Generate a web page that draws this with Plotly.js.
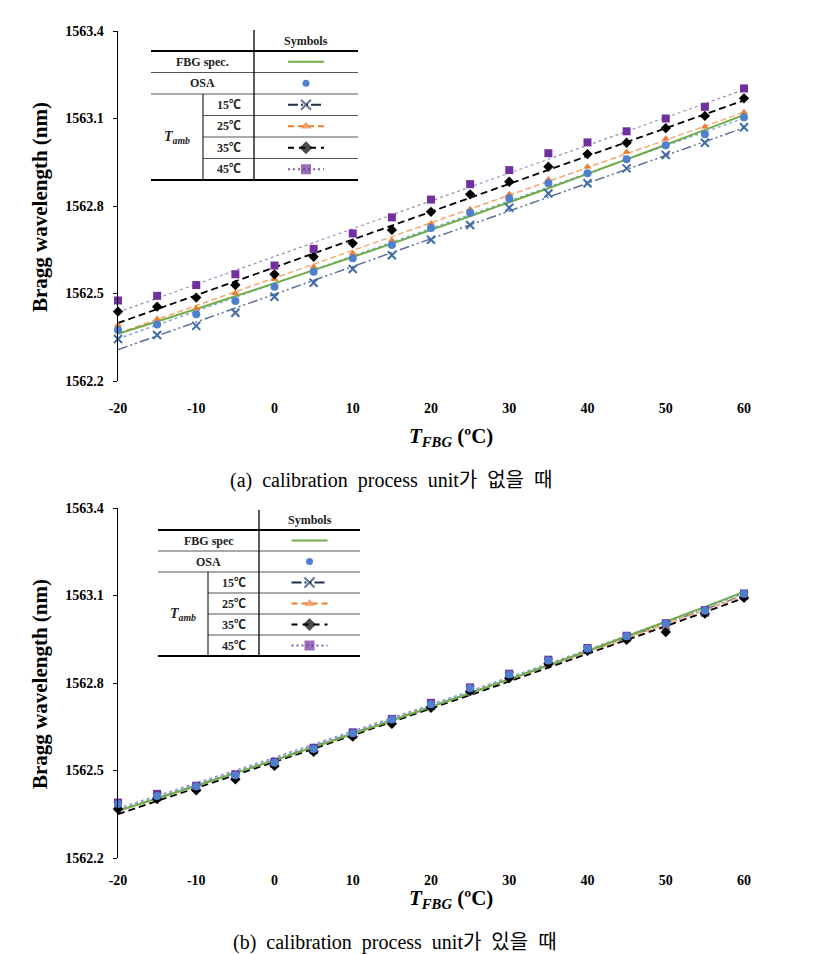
<!DOCTYPE html>
<html>
<head>
<meta charset="utf-8">
<script src="https://cdn.plot.ly/plotly-3.0.1.min.js"></script>
<style>html,body{margin:0;padding:0;background:#fff;}#chart{width:817px;height:954px;}</style>
</head>
<body>
<div id="chart"></div>
<script>
// ---------- DATA ----------
const temps = [-20,-15,-10,-5,0,5,10,15,20,25,30,35,40,45,50,55,60];
const xTicks = [-20,-10,0,10,20,30,40,50,60];
const yTicks = [1562.2,1562.5,1562.8,1563.1,1563.4];

// FBG specification curve (same in both panels)
const fbgSpec = [1562.362,1562.404,1562.447,1562.491,1562.535,1562.580,1562.625,1562.671,1562.718,1562.765,1562.813,1562.861,1562.910,1562.960,1563.010,1563.061,1563.112];

// (a) without calibration process unit
const osaA = [1562.375,1562.394,1562.429,1562.474,1562.523,1562.575,1562.621,1562.666,1562.725,1562.777,1562.826,1562.878,1562.912,1562.960,1563.008,1563.046,1563.104];
const amb15A = [1562.344,1562.358,1562.389,1562.434,1562.489,1562.537,1562.584,1562.631,1562.684,1562.735,1562.794,1562.843,1562.878,1562.929,1562.975,1563.017,1563.070];
const amb25A = [1562.392,1562.413,1562.449,1562.501,1562.549,1562.592,1562.638,1562.683,1562.740,1562.789,1562.840,1562.891,1562.935,1562.985,1563.031,1563.072,1563.121];
const amb35A = [1562.438,1562.455,1562.486,1562.529,1562.566,1562.626,1562.672,1562.718,1562.780,1562.840,1562.883,1562.935,1562.978,1563.017,1563.067,1563.109,1563.169];
const amb45A = [1562.476,1562.492,1562.529,1562.566,1562.596,1562.653,1562.706,1562.761,1562.822,1562.875,1562.923,1562.981,1563.018,1563.056,1563.100,1563.140,1563.203];

// (b) with calibration process unit
const osaB = [1562.385,1562.413,1562.445,1562.484,1562.527,1562.574,1562.628,1562.675,1562.727,1562.782,1562.829,1562.877,1562.918,1562.960,1563.003,1563.048,1563.106];
const amb15B = [1562.380,1562.410,1562.442,1562.480,1562.524,1562.571,1562.624,1562.671,1562.722,1562.777,1562.825,1562.872,1562.914,1562.955,1562.996,1563.042,1563.100];
const amb25B = [1562.378,1562.409,1562.440,1562.479,1562.522,1562.569,1562.622,1562.668,1562.720,1562.776,1562.823,1562.871,1562.913,1562.953,1562.990,1563.041,1563.098];
const amb35B = [1562.368,1562.402,1562.432,1562.470,1562.516,1562.564,1562.616,1562.660,1562.715,1562.772,1562.817,1562.866,1562.910,1562.948,1562.975,1563.038,1563.092];
const amb45B = [1562.390,1562.420,1562.448,1562.487,1562.530,1562.578,1562.631,1562.677,1562.732,1562.785,1562.832,1562.880,1562.920,1562.962,1563.005,1563.050,1563.107];

const legendRows = ['15℃','25℃','35℃','45℃'];
const captionA = '(a)&nbsp;&nbsp;calibration&nbsp;&nbsp;process&nbsp;&nbsp;unit가&nbsp;&nbsp;없을&nbsp;&nbsp;때';
const captionB = '(b)&nbsp;&nbsp;calibration&nbsp;&nbsp;process&nbsp;&nbsp;unit가&nbsp;&nbsp;있을&nbsp;&nbsp;때';

// ---------- STYLES ----------
const W = 817, H = 954;
const SERIF = "'Liberation Serif', 'Times New Roman', serif";
const KSERIF = "'Liberation Serif', 'Noto Sans CJK KR', serif";
const C = {
  green:'#70AD47', osa:'#4F7FCF', x15:'#3F6AA8', x15line:'#5B7193',
  orange:'#ED7D31', black:'#000000', purple:'#7030A0', purpleLine:'#9C8DB6'
};
const styles = {
  osa:  {name:'OSA', color:C.osa, lineColor:'#7FA6E0', symbol:'circle', size:8, dash:'dot', lw:1.5},
  a15:  {name:'15', color:C.x15, lineColor:C.x15line, symbol:'x-thin-open', size:8, dash:'10px,3px,2px,3px,2px,3px', lw:1.5},
  a25:  {name:'25', color:C.orange, lineColor:'#F4A872', symbol:'triangle-up', size:7, dash:'6px,3px', lw:1.5},
  a35:  {name:'35', color:C.black, lineColor:'#000', symbol:'diamond', size:8, dash:'7px,4px', lw:1.8},
  a45:  {name:'45', color:C.purple, lineColor:C.purpleLine, symbol:'square', size:8, dash:'dot', lw:1.2}
};

// ---------- helpers ----------
function polyfit(x, y, deg){
  const n = deg+1, ym = y.reduce((a,b)=>a+b,0)/y.length;
  const A = Array.from({length:n},()=>Array(n+1).fill(0));
  for(let k=0;k<x.length;k++){
    const t = x[k]/10, v = y[k]-ym;
    for(let i=0;i<n;i++){
      for(let j=0;j<n;j++) A[i][j]+=Math.pow(t,i+j);
      A[i][n]+=Math.pow(t,i)*v;
    }
  }
  for(let i=0;i<n;i++){
    let p=i; for(let r=i+1;r<n;r++) if(Math.abs(A[r][i])>Math.abs(A[p][i])) p=r;
    [A[i],A[p]]=[A[p],A[i]];
    for(let r=0;r<n;r++){ if(r===i) continue; const f=A[r][i]/A[i][i]; for(let c=i;c<=n;c++) A[r][c]-=f*A[i][c]; }
  }
  const coef = A.map((row,i)=>row[n]/row[i]);
  return xx => ym + coef.reduce((s,c,i)=>s+c*Math.pow(xx/10,i),0);
}
const xs = []; for(let t=temps[0]; t<=temps[temps.length-1]; t+=1) xs.push(t);

function panelTraces(xa, ya, sets, deg){
  const tr = [];
  sets.forEach(([st, ys])=>{
    const f = polyfit(temps, ys, deg);
    tr.push({x:xs, y:xs.map(f), xaxis:xa, yaxis:ya, mode:'lines', type:'scatter',
      line:{color:st.lineColor, width:st.lw, dash:st.dash}, hoverinfo:'skip', showlegend:false});
  });
  tr.push({x:temps, y:fbgSpec, xaxis:xa, yaxis:ya, mode:'lines', type:'scatter',
    line:{color:C.green, width:2, shape:'spline'}, showlegend:false, hoverinfo:'skip'});
  sets.forEach(([st, ys])=>{
    tr.push({x:temps, y:ys, xaxis:xa, yaxis:ya, mode:'markers', type:'scatter', cliponaxis:false,
      marker:{symbol:st.symbol, size:st.size, color:st.color, line:{color:st.color, width: st.symbol==='x-thin-open'?2:0}},
      showlegend:false, name:st.name});
  });
  return tr;
}

const traces = [];
traces.push(...panelTraces('x','y', [[styles.a15,amb15A],[styles.a25,amb25A],[styles.osa,osaA],[styles.a35,amb35A],[styles.a45,amb45A]], 1));
traces.push(...panelTraces('x2','y2', [[styles.a15,amb15B],[styles.a25,amb25B],[styles.a35,amb35B],[styles.a45,amb45B],[styles.osa,osaB]], 2));

// ---------- legend tables (pixel overlay axis x3/y3) ----------
const shapes = [], annotations = [];
function table(L, R, D, S, top, hdr, rh, fbgLabel){
  const rows = [hdr, hdr+rh, hdr+2*rh, hdr+3*rh, hdr+4*rh, hdr+5*rh, hdr+6*rh];
  const ln = (x0,y0,x1,y1,w,c)=>shapes.push({type:'line',xref:'x3',yref:'y3',x0,y0,x1,y1,line:{color:c||'#000',width:w}});
  ln(L,rows[0],R,rows[0],2);
  ln(L,rows[1],R,rows[1],1,'#555');
  ln(L,rows[2],R,rows[2],1,'#555');
  for(let i=3;i<6;i++) ln(S,rows[i],R,rows[i],1,'#555');
  ln(L,rows[6],R,rows[6],2);
  ln(D,top,D,rows[6],1.3);
  ln(S,rows[2],S,rows[6],1);
  const txt = (x,y,t,sz)=>annotations.push({xref:'x3',yref:'y3',x,y,text:t,showarrow:false,
    font:{family:KSERIF,size:sz||12,color:'#222',weight:'bold'},xanchor:'center',yanchor:'middle'});
  txt((D+R)/2,(top+hdr)/2,'Symbols',12);
  txt((L+D)/2,(rows[0]+rows[1])/2,fbgLabel,12);
  txt((L+D)/2,(rows[1]+rows[2])/2,'OSA',12);
  legendRows.forEach((r,i)=>txt((S+D)/2,(rows[2+i]+rows[3+i])/2,r,12));
  txt((L+S)/2,(rows[2]+rows[6])/2,'<i>T</i><sub><i>amb</i></sub>',14);
  const cx=(D+R)/2, half=18;
  traces.push({x:[cx-half,cx+half],y:[(rows[0]+rows[1])/2,(rows[0]+rows[1])/2],xaxis:'x3',yaxis:'y3',mode:'lines',
    line:{color:C.green,width:2},hoverinfo:'skip',showlegend:false});
  traces.push({x:[cx],y:[(rows[1]+rows[2])/2],xaxis:'x3',yaxis:'y3',mode:'markers',
    marker:{color:C.osa,size:7,symbol:'circle'},hoverinfo:'skip',showlegend:false});
  const legSt = [
    [styles.a15,'#1F2F4F','10px,3px,2px,3px,2px,3px','#1F3C6E'],
    [styles.a25,C.orange,'6px,4px',C.orange],
    [styles.a35,'#000','6px,5px','#000'],
    [styles.a45,'#7E5BB5','2px,3px',C.purple]
  ];
  legSt.forEach(([st,lc,dash,mc],i)=>{
    const yy=(rows[2+i]+rows[3+i])/2;
    traces.push({x:[cx-half,cx,cx+half],y:[yy,yy,yy],xaxis:'x3',yaxis:'y3',mode:'lines+markers',
      line:{color:lc,width:2,dash:dash},
      marker:{symbol:st.symbol,size:[0,st.size+2,0],color:mc,line:{color:mc,width:st.symbol==='x-thin-open'?2:0}},
      hoverinfo:'skip',showlegend:false});
  });
}
table(151,358,254,203,30,51,21.5,'FBG spec.');
table(158,360,259,208,510,530,21,'FBG spec');

// ---------- titles & captions ----------
function ann(x,y,text,size,extra){
  annotations.push(Object.assign({xref:'paper',yref:'paper',x:x/W,y:1-y/H,text,showarrow:false,
    xanchor:'center',yanchor:'middle',font:{family:SERIF,size,color:'#000',weight:'bold'}},extra||{}));
}
ann(40,207,'Bragg wavelength (nm)',21,{textangle:-90});
ann(40,684,'Bragg wavelength (nm)',21,{textangle:-90});
ann(451,437,'<i>T</i><sub><i>FBG</i></sub> (ºC)',21);
ann(451,899,'<i>T</i><sub><i>FBG</i></sub> (ºC)',21);
annotations.push({xref:'paper',yref:'paper',x:391/W,y:1-481/H,text:captionA,showarrow:false,xanchor:'center',yanchor:'middle',
  font:{family:KSERIF,size:20,color:'#000'}});
annotations.push({xref:'paper',yref:'paper',x:395/W,y:1-942/H,text:captionB,showarrow:false,xanchor:'center',yanchor:'middle',
  font:{family:KSERIF,size:20,color:'#000'}});

// ---------- axes ----------
const tickFont = {family:SERIF,size:14,color:'#000',weight:'bold'};
function xax(anchor, standoff){
  return {domain:[118/W,744/W],range:[-20,60],tickmode:'array',tickvals:xTicks,ticktext:xTicks.map(String),
    showline:false,ticks:'',showgrid:false,zeroline:false,tickfont:tickFont,anchor,ticklabelstandoff:standoff,fixedrange:true};
}
function yax(top,bot,anchor){
  return {domain:[1-bot/H,1-top/H],range:[1562.2,1563.4],tickmode:'array',tickvals:yTicks,
    ticktext:yTicks.map(v=>v.toFixed(1)),showline:true,linecolor:'#000',linewidth:1.5,ticks:'outside',ticklen:4,
    tickcolor:'#000',tickwidth:1,showgrid:false,zeroline:false,tickfont:tickFont,anchor,ticklabelstandoff:6,fixedrange:true};
}

const layout = {
  width:W,height:H,margin:{l:0,r:0,t:0,b:0},paper_bgcolor:'#fff',plot_bgcolor:'rgba(0,0,0,0)',
  showlegend:false,
  xaxis:xax('y',17), yaxis:yax(31,381,'x'),
  xaxis2:xax('y2',12), yaxis2:yax(508,858,'x2'),
  xaxis3:{domain:[0,1],range:[0,W],visible:false,anchor:'y3',fixedrange:true},
  yaxis3:{domain:[0,1],range:[H,0],visible:false,anchor:'x3',fixedrange:true},
  shapes, annotations
};
Plotly.newPlot('chart', traces, layout, {staticPlot:true, displayModeBar:false});
</script>
</body>
</html>
